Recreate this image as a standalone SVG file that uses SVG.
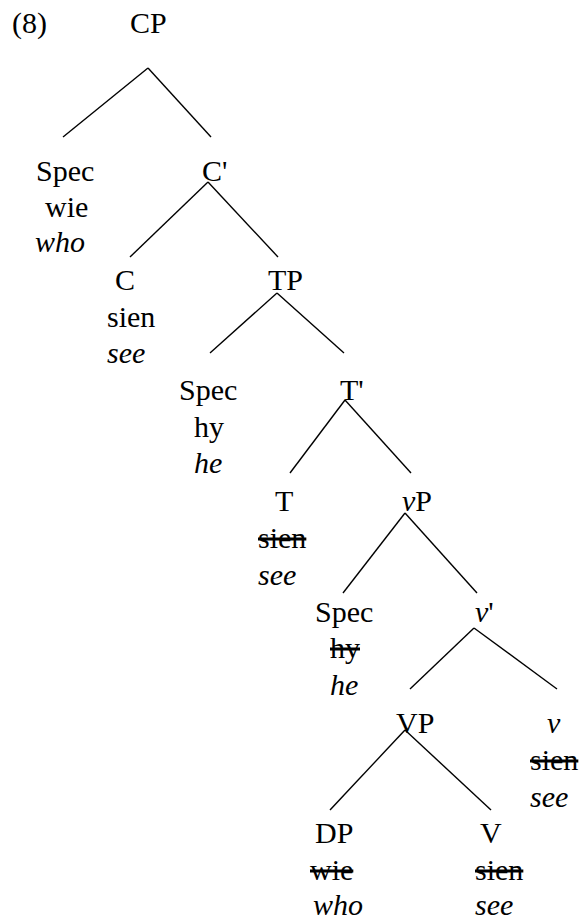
<svg xmlns="http://www.w3.org/2000/svg" width="584" height="921" viewBox="0 0 584 921" font-family="Liberation Serif, serif" font-size="30">
<style>
text{font-family:"Liberation Serif",serif;font-size:30px;fill:#000}
.i{font-style:italic}
.s{text-decoration:line-through}
#edges line{stroke:#000;stroke-width:1.4}
</style>
<rect width="584" height="921" fill="#fff"/>
<text x="12" y="33">(8)</text>
<g id="edges">
<line x1="148" y1="68" x2="63" y2="137"/>
<line x1="148" y1="68" x2="211" y2="137"/>
<line x1="208" y1="182" x2="130" y2="257"/>
<line x1="208" y1="182" x2="278" y2="257"/>
<line x1="277" y1="293" x2="210" y2="353"/>
<line x1="277" y1="293" x2="344" y2="353"/>
<line x1="345" y1="400" x2="290" y2="473"/>
<line x1="345" y1="400" x2="411" y2="473"/>
<line x1="405" y1="513" x2="343" y2="593"/>
<line x1="405" y1="513" x2="477" y2="593"/>
<line x1="474" y1="628" x2="410" y2="689"/>
<line x1="474" y1="628" x2="557" y2="689"/>
<line x1="405" y1="730" x2="330" y2="810"/>
<line x1="405" y1="730" x2="491" y2="810"/>
</g>
<g id="CP"><text x="130" y="33">CP</text></g>
<g id="SpecC"><text x="36" y="181">Spec</text><text x="45" y="217">wie</text><text class="i" x="35" y="252">who</text></g>
<g id="Cbar"><text x="202" y="181">C'</text></g>
<g id="C"><text x="115" y="290">C</text><text x="107" y="327">sien</text><text class="i" x="107" y="363">see</text></g>
<g id="TP"><text x="268" y="290">TP</text></g>
<g id="SpecT"><text x="179" y="400">Spec</text><text x="194" y="437">hy</text><text class="i" x="194" y="473">he</text></g>
<g id="Tbar"><text x="340" y="400">T'</text></g>
<g id="T"><text x="275" y="511">T</text><text class="s" x="258" y="548">sien</text><text class="i" x="258" y="585">see</text></g>
<g id="vP"><text x="402" y="511"><tspan class="i">v</tspan>P</text></g>
<g id="Specv"><text x="315" y="622">Spec</text><text class="s" x="330" y="658">hy</text><text class="i" x="330" y="695">he</text></g>
<g id="vbar"><text x="475" y="622"><tspan class="i">v</tspan>'</text></g>
<g id="VP"><text x="396" y="733">VP</text></g>
<g id="v"><text class="i" x="547" y="733">v</text><text class="s" x="530" y="770">sien</text><text class="i" x="530" y="807">see</text></g>
<g id="DP"><text x="315" y="843">DP</text><text class="s" x="310" y="880">wie</text><text class="i" x="313" y="915">who</text></g>
<g id="V"><text x="480" y="843">V</text><text class="s" x="475" y="880">sien</text><text class="i" x="475" y="915">see</text></g>
</svg>
